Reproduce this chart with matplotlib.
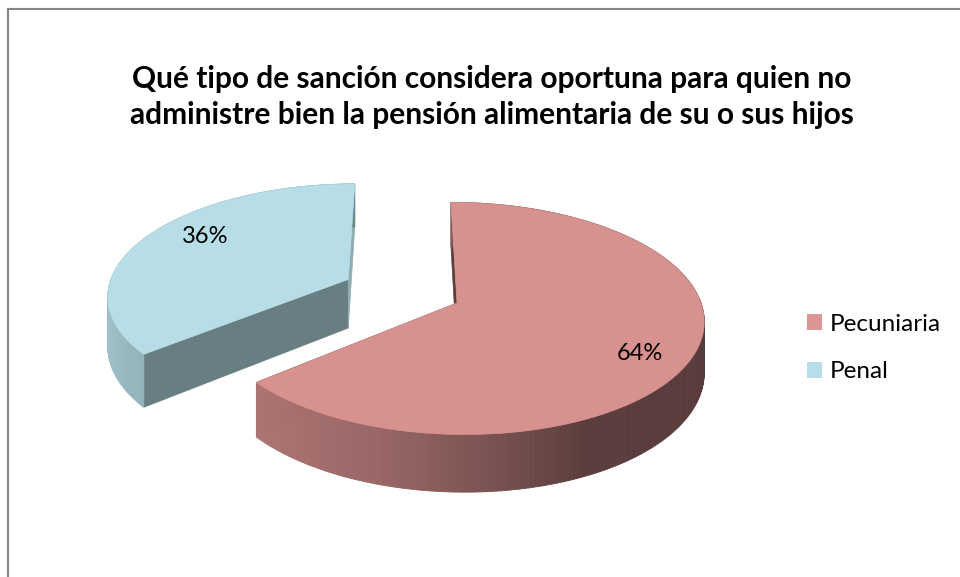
import numpy as np
import matplotlib.pyplot as plt
from matplotlib.patches import Polygon, Patch
from matplotlib.collections import PolyCollection
from matplotlib.colors import to_rgb

# data
categories = ['Pecuniaria', 'Penal']
values = [64, 36]
explode = [0.0, 0.5]
colors = ['#D7918F', '#B7DDE6']
legend_colors = ['#D99694', '#B7DEE8']
title = ('Qué tipo de sanción considera oportuna para quien no\n'
         'administre bien la pensión alimentaria de su o sus hijos')

# 3d pie geometry, in pixels
CX, CY = 457, 303
RX, RY = 244, 114
PERSP = 0.133
SKEW = 0.06
DEPTH = 50

# colour factor of the outer wall vs the horizontal component of its normal
wall_u = [-1.0, -0.75, -0.3, 0.0, 0.45, 1.0]
wall_f = [0.88, 0.80, 0.71, 0.60, 0.42, 0.41]
# colour factor of the two flat cut faces (start edge, end edge) of each slice
cut_f = [(0.42, 0.42), (0.57, 0.78)]
# label placement: radius fraction and height offset
label_r = [0.78, 0.7]
label_z = [0.2, -0.25]


def project(u, v, z=0.0):
    d = 1 + PERSP * np.asarray(v)
    y = -RY * np.asarray(v) / d
    x = CX + RX * np.asarray(u) / d + SKEW * y
    return x, CY + y + z * DEPTH / d


def shade(c, f):
    return tuple(np.clip(np.array(to_rgb(c)) * f, 0, 1))


fig = plt.figure(figsize=(9.6, 5.77), dpi=100)
ax = fig.add_axes([0, 0, 1, 1])
ax.set_xlim(0, 960)
ax.set_ylim(577, 0)
ax.axis('off')

# chart frame
ax.plot([8, 8], [577, 9], color='#868686', lw=1.5)
ax.plot([8, 960], [9, 9], color='#868686', lw=1.5)

ax.text(492, 97, title, ha='center', va='center', fontsize=21.5,
        fontweight='bold', family='Lato', linespacing=1.33)

total = float(sum(values))
starts = np.cumsum([0] + values[:-1]) / total * 360

# the exploded (back) slice first, the front one over it
for i in [1, 0]:
    a0 = starts[i]
    a1 = a0 + values[i] / total * 360
    mid = np.radians((a0 + a1) / 2)
    ou, ov = explode[i] * np.sin(mid), explode[i] * np.cos(mid)
    th = np.radians(np.linspace(a0, a1, 240))
    u = ou + np.sin(th)
    v = ov + np.cos(th)

    # flat cut faces
    for a, f in zip((a0, a1), cut_f[i]):
        eu = [ou, ou + np.sin(np.radians(a))]
        ev = [ov, ov + np.cos(np.radians(a))]
        xt, yt = project(eu, ev, 0)
        xb, yb = project(eu, ev, 1)
        ax.add_patch(Polygon(np.c_[np.r_[xt, xb[::-1]], np.r_[yt, yb[::-1]]],
                             closed=True, fc=shade(colors[i], f),
                             ec=shade(colors[i], f), lw=0.5))

    # outer wall, back to front
    xt, yt = project(u, v, 0)
    xb, yb = project(u, v, 1)
    segs, fcs, keys = [], [], []
    for j in range(len(th) - 1):
        segs.append([(xt[j], yt[j]), (xt[j + 1], yt[j + 1]),
                     (xb[j + 1], yb[j + 1]), (xb[j], yb[j])])
        nu = np.sin((th[j] + th[j + 1]) / 2)
        fcs.append(shade(colors[i], np.interp(nu, wall_u, wall_f)))
        keys.append(-(v[j] + v[j + 1]))
    idx = np.argsort(keys)
    ax.add_collection(PolyCollection([segs[k] for k in idx],
                                     facecolors=[fcs[k] for k in idx],
                                     edgecolors=[fcs[k] for k in idx],
                                     linewidths=0.6))

    # top face
    px, py = project(ou, ov, 0)
    ax.add_patch(Polygon(np.c_[np.r_[px, xt], np.r_[py, yt]], closed=True,
                         fc=colors[i], ec=colors[i], lw=0.5))

    lx, ly = project(ou + label_r[i] * np.sin(mid),
                     ov + label_r[i] * np.cos(mid), label_z[i])
    ax.text(lx, ly, '%d%%' % values[i], ha='center', va='center',
            fontsize=17, family='Lato')

handles = [Patch(facecolor=c, edgecolor='none', label=l)
           for c, l in zip(legend_colors, categories)]
ax.legend(handles=handles, loc='center left',
          bbox_to_anchor=(807 / 960, 1 - 348 / 577), frameon=False,
          borderpad=0, borderaxespad=0,
          prop={'family': 'Lato', 'size': 17.5}, handlelength=0.6,
          handleheight=0.6, handletextpad=0.35, labelspacing=1.1)

fig.savefig('out.png', dpi=100)
